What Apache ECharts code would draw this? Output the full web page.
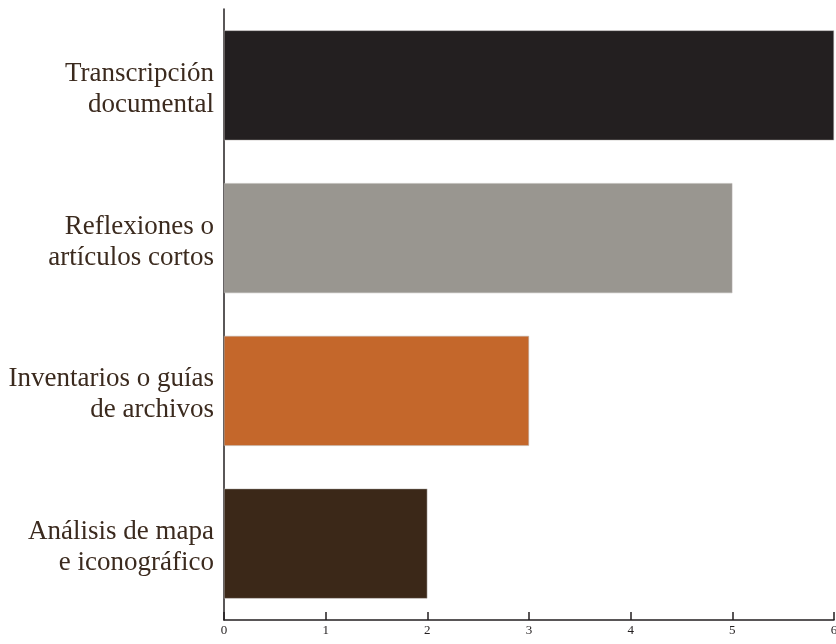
<!DOCTYPE html>
<html><head><meta charset="utf-8">
<script src="https://cdn.jsdelivr.net/npm/echarts@6/dist/echarts.min.js"></script>
<style>html,body{margin:0;padding:0;background:#fff;overflow:hidden}#c{width:836px;height:644px}</style>
</head><body><div id="c"></div>
<script>
const categories = ["Análisis de mapa\ne iconográfico", "Inventarios o guías\nde archivos", "Reflexiones o\nartículos cortos", "Transcripción\ndocumental"];
const values = [2, 3, 5, 6];
const barColors = ["#3b2818", "#c4672b", "#999690", "#231f20"];
const xTicks = [0, 1, 2, 3, 4, 5, 6];

const chart = echarts.init(document.getElementById('c'), null, {renderer: 'canvas', width: 836, height: 644});
chart.setOption({
  animation: false,
  grid: {left: 224, right: 2, top: 9, bottom: 24, containLabel: false, outerBoundsMode: 'none'},
  xAxis: {
    type: 'value', min: xTicks[0], max: xTicks[xTicks.length - 1], interval: 1,
    axisLine: {show: true, lineStyle: {color: '#231f20', width: 1.5}},
    axisTick: {show: true, inside: true, length: 8, lineStyle: {color: '#231f20', width: 1.5}},
    splitLine: {show: false},
    axisLabel: {color: '#231f20', fontFamily: 'Liberation Serif', fontSize: 13, margin: 4,
      showMaxLabel: true}
  },
  yAxis: {
    type: 'category', data: categories,
    axisLine: {show: true, lineStyle: {color: '#231f20', width: 1.5}},
    axisTick: {show: false},
    axisLabel: {
      margin: 10, align: 'right',
      formatter: v => '{s| }\n' + v.split('\n').map(s => '{a|' + s + '}').join('\n'),
      rich: {
        s: {fontSize: 1, lineHeight: 8},
        a: {color: '#3b2a1e', fontFamily: 'Liberation Serif', fontSize: 27, lineHeight: 31, align: 'right'}
      }
    }
  },
  series: [{
    type: 'bar',
    data: values.map((v, i) => ({value: v, itemStyle: {color: barColors[i]}})),
    barCategoryGap: '28%',
    itemStyle: {borderColor: '#b8b5b0', borderWidth: 0.5}
  }]
});
</script></body></html>
